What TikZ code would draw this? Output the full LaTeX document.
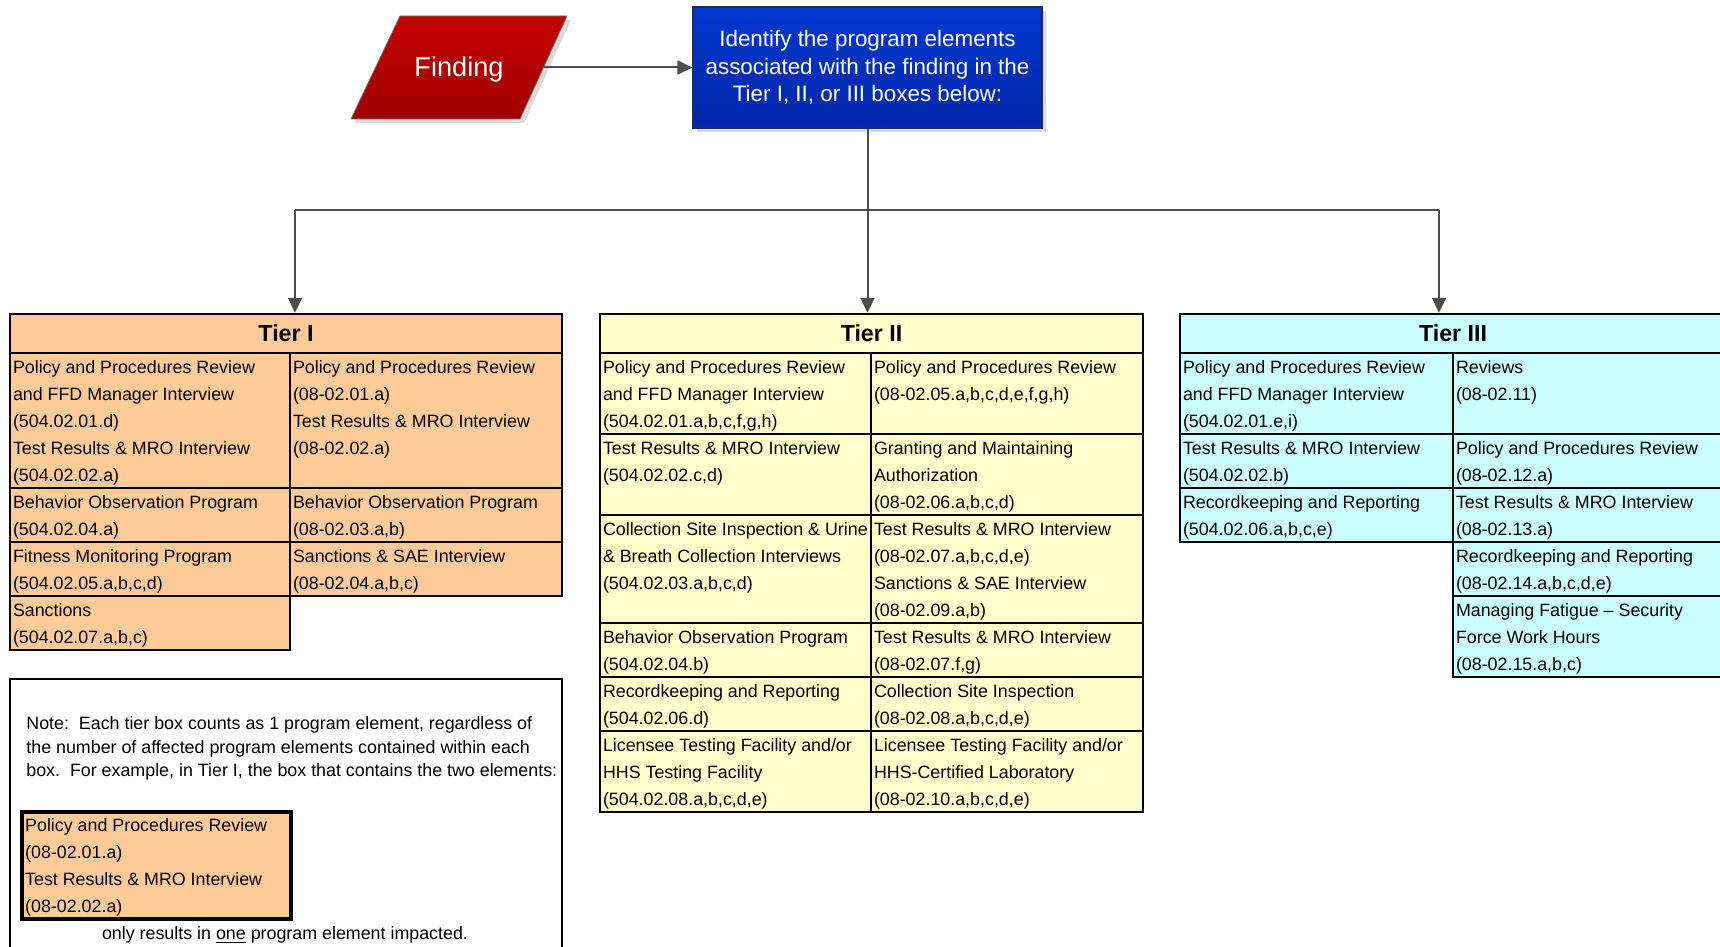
\documentclass[tikz,border=0pt]{standalone}
\usepackage{fontspec}
\setmainfont{Liberation Sans}
\usetikzlibrary{fit,arrows.meta}
\definecolor{peach}{HTML}{FFCC99}
\definecolor{lyellow}{HTML}{FFFFCC}
\definecolor{lcyan}{HTML}{CCFFFF}
\definecolor{conn}{HTML}{4D4D4D}
\definecolor{redtop}{HTML}{C40000}
\definecolor{redbot}{HTML}{A00000}
\definecolor{bluetop}{HTML}{0038D0}
\definecolor{bluebot}{HTML}{0026A8}
\definecolor{bluedark}{HTML}{1A2A6A}
\definecolor{shadowgray}{HTML}{D9D9D9}
\newcommand\tcell[7]{%
  \node[cellbox, fill=#6, fit={(#2,#3) (#4,#5)}] (#1) {};
  \node[celltext] (#1-t) at ([xshift=1.9pt,yshift=-1pt]#1.north west) {\strut#7};
}
\newcommand\thead[7]{%
  \node[cellbox, fill=#6, fit={(#2,#3) (#4,#5)}] (#1) {};
  \node[headtext] (#1-t) at (#1.center) {#7};
}
\begin{document}
\begin{tikzpicture}[x=0.5pt,y=-0.5pt,
  cellbox/.style={draw=black, line width=1.2pt, inner sep=0pt},
  celltext/.style={anchor=north west, inner sep=0pt, align=left, font=\fontsize{8.92}{13.5}\selectfont\frenchspacing},
  headtext/.style={inner sep=0pt, font=\fontsize{11.6}{13}\selectfont\bfseries},
  conline/.style={draw=conn, line width=1pt},
  conarrow/.style={conline, -{Triangle[width=7pt,length=7.5pt]}},
]
\useasboundingbox (0,0) rectangle (1720,947);

% Finding parallelogram
\fill[shadowgray] (355,123) -- (524,123) -- (571,20) -- (404,20) -- cycle;
\shadedraw[top color=redtop, bottom color=redbot, draw=black!55, line width=0.4pt]
  (351,119) -- (520,119) -- (567,16) -- (400,16) -- cycle;
\node[font=\fontsize{13.6}{16}\selectfont, text=white] (finding) at (459,69.5) {Finding};
\coordinate (findR) at (544,67.5);

% Blue box
\fill[shadowgray] (697,11) rectangle (1046,132);
\node[fit={(693,7) (1042,128)}, inner sep=0pt, top color=bluetop, bottom color=bluebot,
  draw=bluedark, line width=0.6pt] (blue) {};
\node[text=white, align=center, inner sep=0pt,
  font=\fontsize{11.2}{13.7}\selectfont] (blue-t) at (blue.center)
  {Identify the program elements\\associated with the finding in the\\Tier I, II, or III boxes below:};

% Tier I
\thead{t1h}{10}{314}{562}{353}{peach}{Tier I}
\tcell{t1r1l}{10}{353}{290}{488}{peach}{Policy and Procedures Review\\and FFD Manager Interview\\(504.02.01.d)\\Test Results \& MRO Interview\\(504.02.02.a)}
\tcell{t1r1r}{290}{353}{562}{488}{peach}{Policy and Procedures Review\\(08-02.01.a)\\Test Results \& MRO Interview\\(08-02.02.a)}
\tcell{t1r2l}{10}{488}{290}{542}{peach}{Behavior Observation Program\\(504.02.04.a)}
\tcell{t1r2r}{290}{488}{562}{542}{peach}{Behavior Observation Program\\(08-02.03.a,b)}
\tcell{t1r3l}{10}{542}{290}{596}{peach}{Fitness Monitoring Program\\(504.02.05.a,b,c,d)}
\tcell{t1r3r}{290}{542}{562}{596}{peach}{Sanctions \& SAE Interview\\(08-02.04.a,b,c)}
\tcell{t1r4l}{10}{596}{290}{650}{peach}{Sanctions\\(504.02.07.a,b,c)}

% Tier II
\thead{t2h}{600}{314}{1143}{353}{lyellow}{Tier II}
\tcell{t2r1l}{600}{353}{871}{434}{lyellow}{Policy and Procedures Review\\and FFD Manager Interview\\(504.02.01.a,b,c,f,g,h)}
\tcell{t2r1r}{871}{353}{1143}{434}{lyellow}{Policy and Procedures Review\\(08-02.05.a,b,c,d,e,f,g,h)}
\tcell{t2r2l}{600}{434}{871}{515}{lyellow}{Test Results \& MRO Interview\\(504.02.02.c,d)}
\tcell{t2r2r}{871}{434}{1143}{515}{lyellow}{Granting and Maintaining\\Authorization\\(08-02.06.a,b,c,d)}
\tcell{t2r3l}{600}{515}{871}{623}{lyellow}{Collection Site Inspection \& Urine\\\& Breath Collection Interviews\\(504.02.03.a,b,c,d)}
\tcell{t2r3r}{871}{515}{1143}{623}{lyellow}{Test Results \& MRO Interview\\(08-02.07.a,b,c,d,e)\\Sanctions \& SAE Interview\\(08-02.09.a,b)}
\tcell{t2r4l}{600}{623}{871}{677}{lyellow}{Behavior Observation Program\\(504.02.04.b)}
\tcell{t2r4r}{871}{623}{1143}{677}{lyellow}{Test Results \& MRO Interview\\(08-02.07.f,g)}
\tcell{t2r5l}{600}{677}{871}{731}{lyellow}{Recordkeeping and Reporting\\(504.02.06.d)}
\tcell{t2r5r}{871}{677}{1143}{731}{lyellow}{Collection Site Inspection\\(08-02.08.a,b,c,d,e)}
\tcell{t2r6l}{600}{731}{871}{812}{lyellow}{Licensee Testing Facility and/or\\HHS Testing Facility\\(504.02.08.a,b,c,d,e)}
\tcell{t2r6r}{871}{731}{1143}{812}{lyellow}{Licensee Testing Facility and/or\\HHS-Certified Laboratory\\(08-02.10.a,b,c,d,e)}

% Tier III
\thead{t3h}{1180}{314}{1726}{353}{lcyan}{Tier III}
\tcell{t3r1l}{1180}{353}{1453}{434}{lcyan}{Policy and Procedures Review\\and FFD Manager Interview\\(504.02.01.e,i)}
\tcell{t3r1r}{1453}{353}{1726}{434}{lcyan}{Reviews\\(08-02.11)}
\tcell{t3r2l}{1180}{434}{1453}{488}{lcyan}{Test Results \& MRO Interview\\(504.02.02.b)}
\tcell{t3r2r}{1453}{434}{1726}{488}{lcyan}{Policy and Procedures Review\\(08-02.12.a)}
\tcell{t3r3l}{1180}{488}{1453}{542}{lcyan}{Recordkeeping and Reporting\\(504.02.06.a,b,c,e)}
\tcell{t3r3r}{1453}{488}{1726}{542}{lcyan}{Test Results \& MRO Interview\\(08-02.13.a)}
\tcell{t3r4r}{1453}{542}{1726}{596}{lcyan}{Recordkeeping and Reporting\\(08-02.14.a,b,c,d,e)}
\tcell{t3r5r}{1453}{596}{1726}{677}{lcyan}{Managing Fatigue \textendash{} Security\\Force Work Hours\\(08-02.15.a,b,c)}

% Connectors
\coordinate (jL) at (295,210);
\coordinate (jM) at (blue.south |- jL);
\coordinate (jR) at (1439,210);
\draw[conarrow] (findR) -- (blue.west);
\draw[conline] (blue.south) -- (jM);
\draw[conline] (jL) -- (jR);
\draw[conarrow] (jL) -- (jL |- t1h.north);
\draw[conarrow] (jM) -- (jM |- t2h.north);
\draw[conarrow] (jR) -- (jR |- t3h.north);

% Note box
\node[fit={(10,679) (562,962)}, draw=black, line width=1pt, inner sep=0pt] (note) {};
\node[anchor=north west, inner sep=0pt, align=left,
  font=\fontsize{8.92}{11.8}\selectfont\frenchspacing] (notetext) at (26,712.8)
  {\strut Note:\ \ Each tier box counts as 1 program element, regardless of\\the number of affected program elements contained within each\\box.\ \ For example, in Tier I, the box that contains the two elements:};
\node[cellbox, line width=1.6pt, fill=peach, fit={(22,812) (291,919)}] (ex) {};
\node[celltext] (ex-t) at ([xshift=2.2pt,yshift=-1pt]ex.north west)
  {\strut Policy and Procedures Review\\(08-02.01.a)\\Test Results \& MRO Interview\\(08-02.02.a)};
\node[anchor=base, inner sep=0pt, font=\fontsize{8.92}{12.75}\selectfont] (onlyt) at (285,939)
  {only results in \underline{one} program element impacted.};
\end{tikzpicture}
\end{document}
